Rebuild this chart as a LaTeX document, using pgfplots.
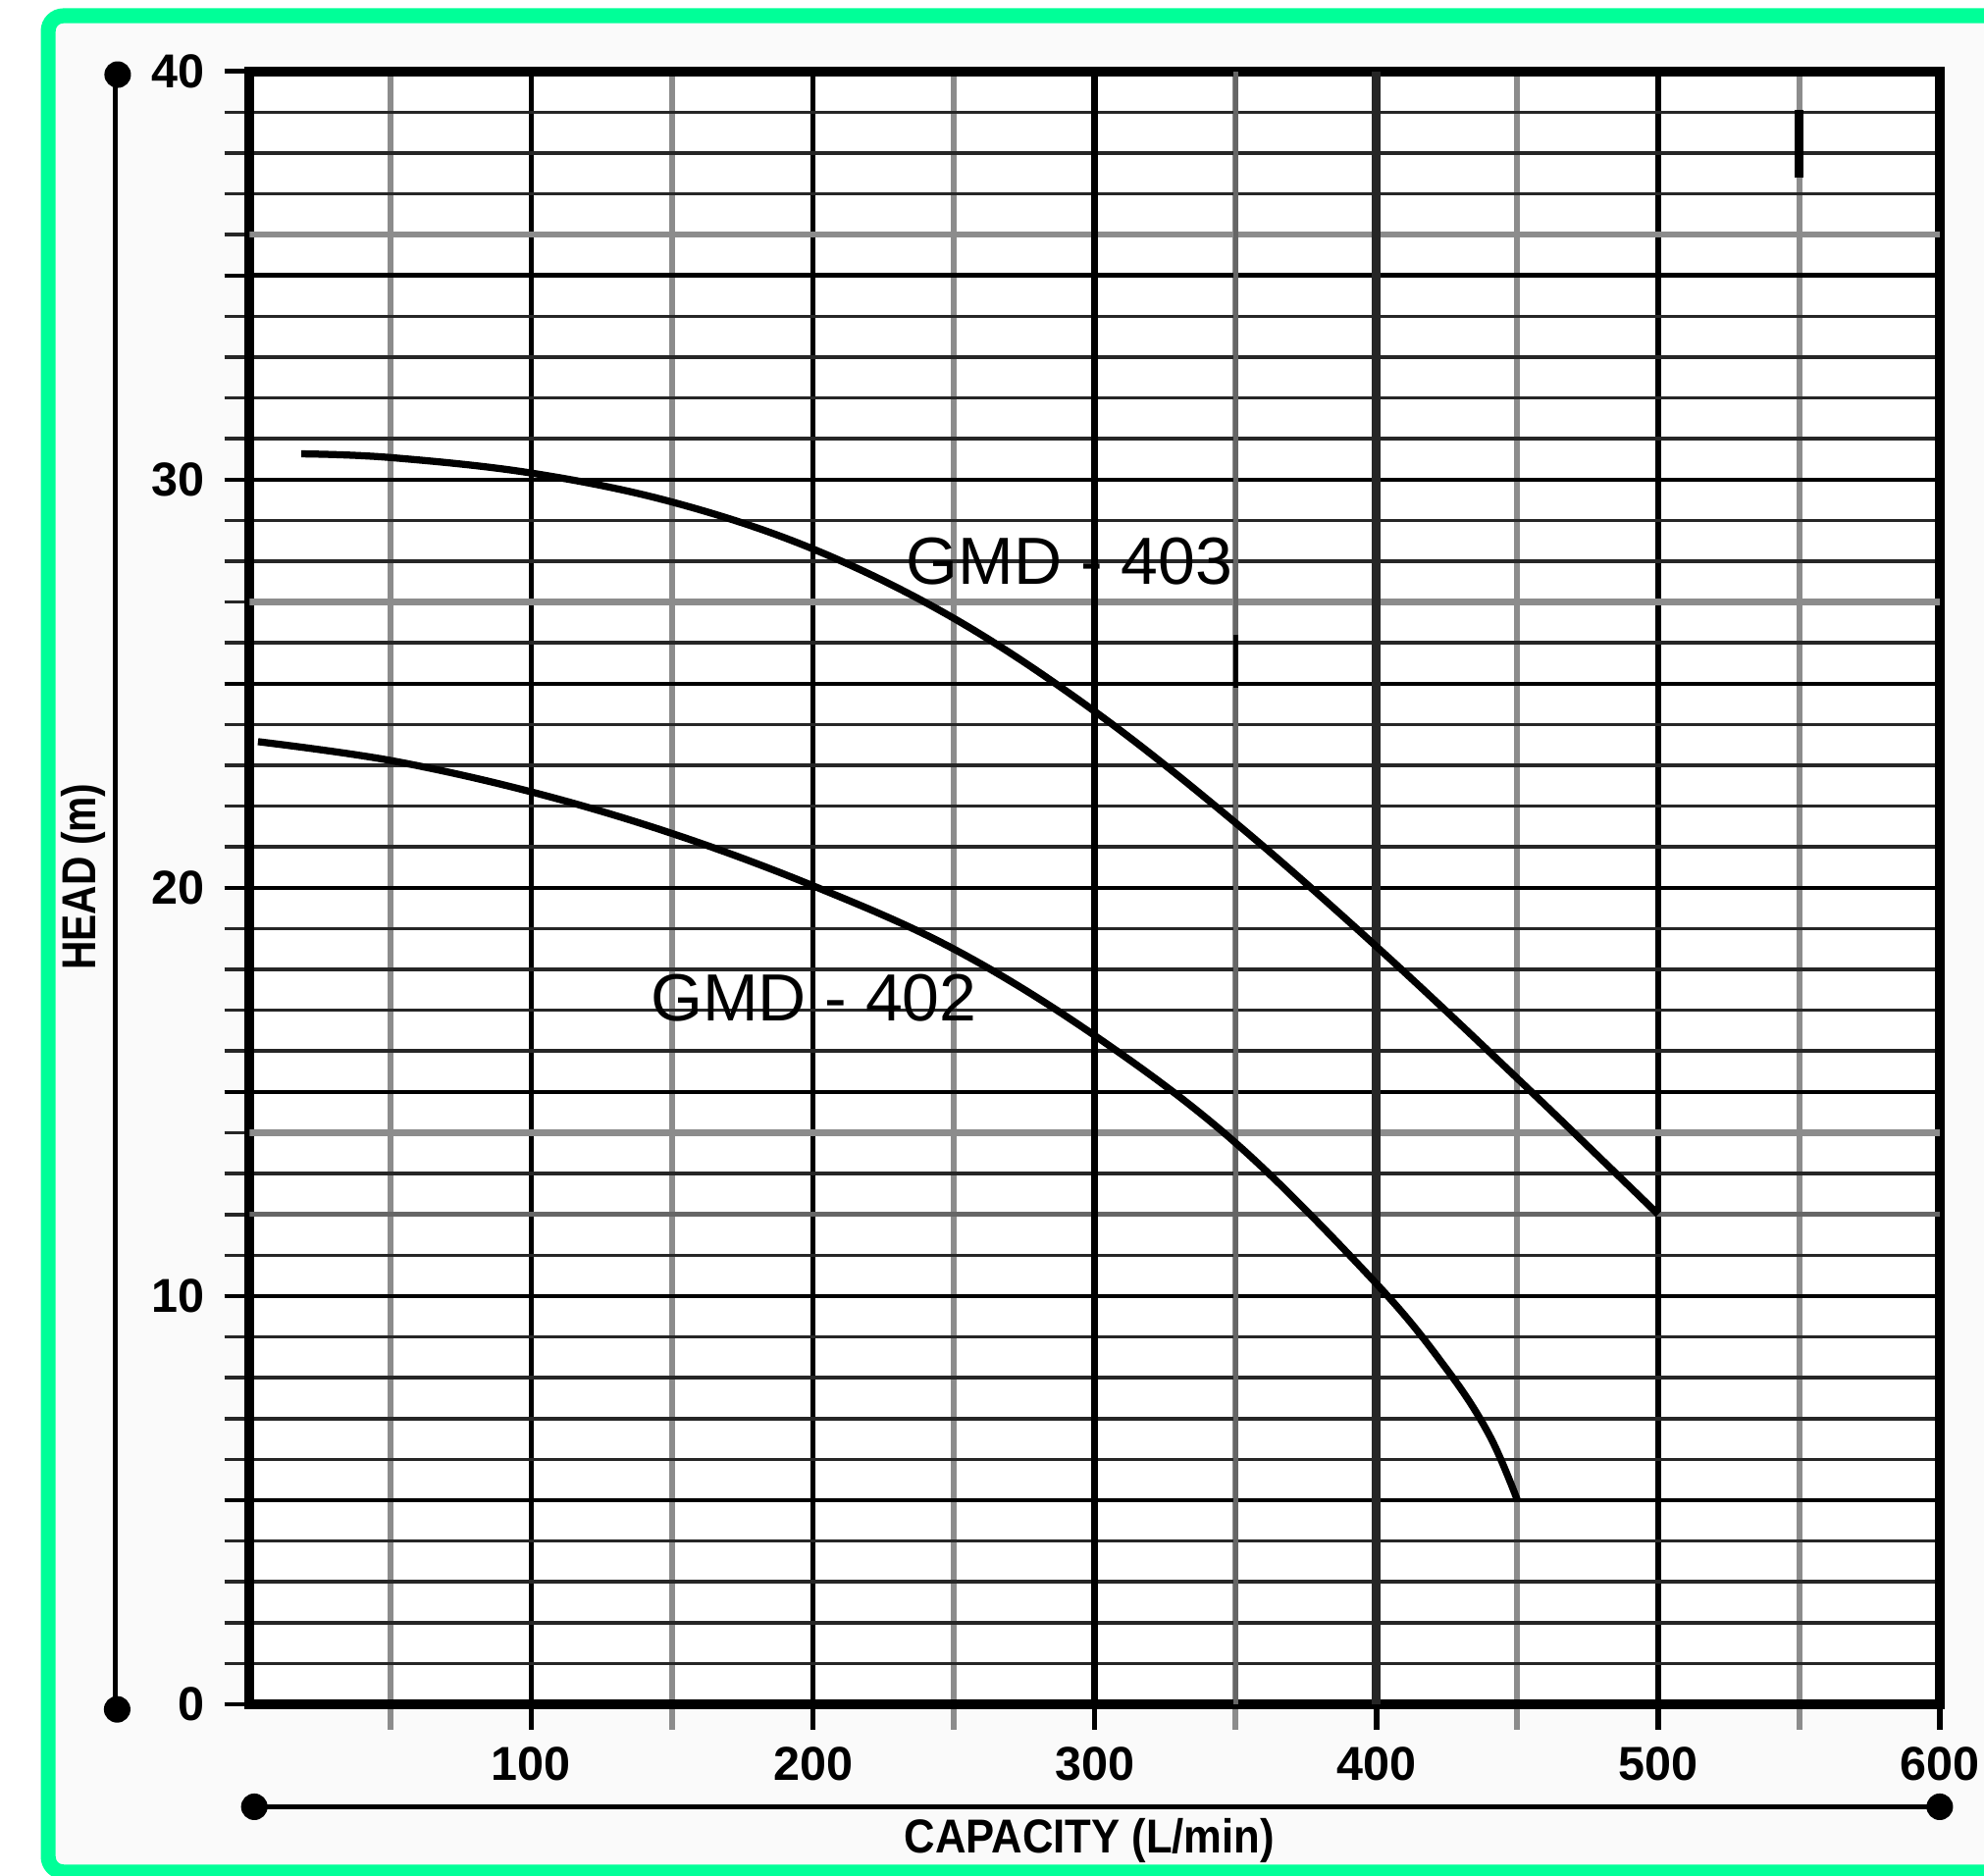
\documentclass[border=0pt]{standalone}
\usepackage{pgfplots}
\pgfplotsset{compat=1.18}
\usepackage{fontspec}
\setmainfont{Liberation Sans}
\definecolor{framegreen}{RGB}{0,255,152}
\definecolor{paper}{RGB}{250,250,250}
\begin{document}
\begin{tikzpicture}
\useasboundingbox (0,0) rectangle (15.68,14.82);
\begin{scope}
\clip (0,0) rectangle (15.68,14.82);
\fill[white] (0,0) rectangle (15.68,14.82);
\fill[paper] (0.38,0.03) rectangle (16.2,14.70);
\draw[framegreen, line width=0.118cm, rounded corners=0.12cm] (0.381,0.025) rectangle (16.5,14.695);

% separate axis lines with dots
\draw[line width=0.035cm] (0.91,14.23) -- (0.91,1.31);
\fill (0.93,14.23) circle (0.105);
\fill (0.926,1.31) circle (0.105);
\draw[line width=0.04cm] (2.01,0.54) -- (15.33,0.54);
\fill (2.01,0.54) circle (0.105);
\fill (15.33,0.54) circle (0.105);

\node[rotate=90, font=\fontsize{10.7}{12}\selectfont\bfseries] at (0.66,7.89) {\scalebox{0.84}[1]{HEAD (m)}};
\node[font=\fontsize{10.7}{12}\selectfont\bfseries] at (8.61,0.27) {\scalebox{0.9}[1]{CAPACITY (L/min)}};

\begin{axis}[
  at={(1.972cm,1.35cm)}, anchor=south west,
  scale only axis, width=13.36cm, height=12.906cm,
  xmin=0, xmax=600, ymin=0, ymax=40,
  axis background/.style={fill=white},
  xtick={100,200,...,600}, minor xtick={50,150,...,550},
  ytick={0,10,...,40}, minor ytick={1,...,39},
  extra y ticks={5,15,25,35}, extra y tick labels={},
  extra y tick style={grid=major, major y grid style={black, line width=1pt}, major y tick style={black, line width=0.9pt}},
  xtick pos=bottom, ytick pos=left,
  tick align=outside,
  major tick length=0.2cm, minor tick length=0.2cm,
  grid=both,
  major x grid style={black, line width=1.2pt},
  minor x grid style={black!45, line width=1.3pt},
  major y grid style={black, line width=1pt},
  minor y grid style={black!85, line width=0.8pt},
  major x tick style={black, line width=1.2pt},
  minor x tick style={black!45, line width=1.3pt},
  major y tick style={black, line width=1pt},
  minor y tick style={black!85, line width=0.8pt},
  axis line style={black, line width=2.2pt},
  /pgf/number format/assume math mode=true,
  xticklabel style={font=\fontsize{10.7}{12}\selectfont\bfseries, inner sep=0pt, yshift=-0.13cm},
  yticklabel style={font=\fontsize{10.7}{12}\selectfont\bfseries, inner sep=0pt, xshift=-0.15cm},
]
% grey scan lines
\draw[black!45, line width=1.4pt] (axis cs:0,36) -- (axis cs:600,36);
\draw[black!45, line width=1.4pt] (axis cs:0,27) -- (axis cs:600,27);
\draw[black!45, line width=1.4pt] (axis cs:0,14) -- (axis cs:600,14);
\draw[black!60, line width=1.1pt] (axis cs:0,12) -- (axis cs:600,12);
\draw[black!60, line width=1.1pt] (axis cs:350,0) -- (axis cs:350,40);
\draw[black, line width=1.6pt] (axis cs:300,0) -- (axis cs:300,40);
\draw[black!85, line width=2pt] (axis cs:400,0) -- (axis cs:400,40);
% stray marks
\draw[black, line width=2pt] (axis cs:550,39.05) -- (axis cs:550,37.4);
\draw[black, line width=1pt] (axis cs:350,26.2) -- (axis cs:350,24.9);

% GMD-403
\addplot[smooth, tension=0.6, line width=1.6pt, black] coordinates {
  (18.4,30.63) (50,30.54) (100,30.16) (150,29.45) (200,28.3) (250,26.6)
  (300,24.32) (350,21.59) (400,18.56) (450,15.33) (500,12.0)
};
% GMD-402
\addplot[smooth, tension=0.6, line width=1.6pt, black] coordinates {
  (3,23.58) (50,23.12) (100,22.35) (150,21.33) (200,20.05) (250,18.5)
  (300,16.38) (350,13.75) (400,10.3) (425,8.2) (440,6.6) (450,5.0)
};

\node[font=\fontsize{15}{18}\selectfont, inner sep=0pt] at (axis cs:291,28) {GMD - 403};
\node[font=\fontsize{15}{18}\selectfont, inner sep=0pt] at (axis cs:200.3,17.3) {GMD - 402};
\end{axis}
\end{scope}
\end{tikzpicture}
\end{document}
